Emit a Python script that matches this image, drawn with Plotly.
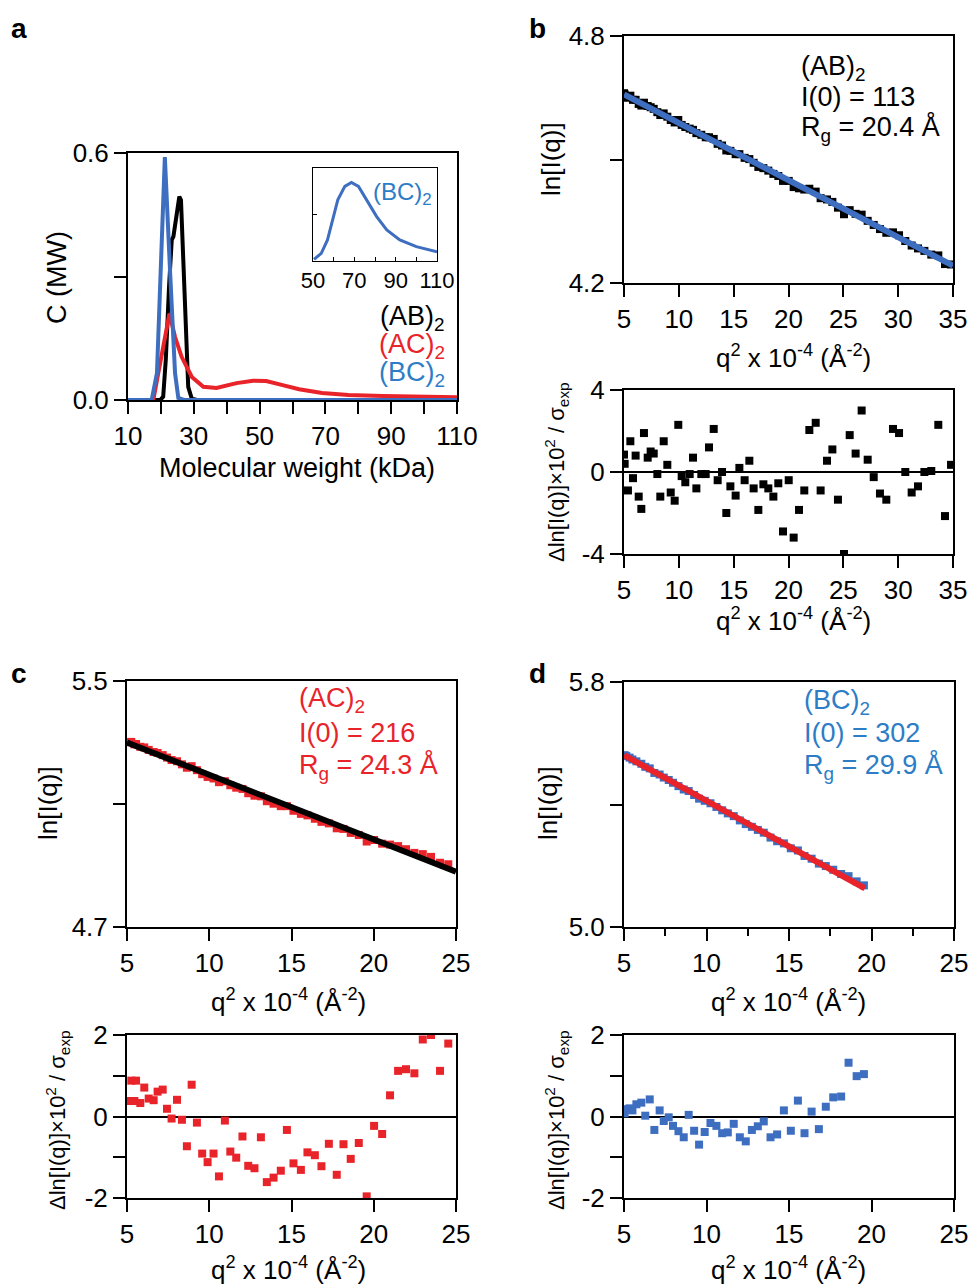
import plotly.graph_objects as go

# ---------------- data ----------------
# panel a: molecular weight distributions
mw_ab = [10, 19.8, 20.7, 21.5, 22.5, 23.3, 23.8, 25.6, 26.1, 27.2, 28.3, 29.4, 31, 110]
c_ab = [0, 0, 0.008, 0.10, 0.28, 0.389, 0.397, 0.494, 0.486, 0.25, 0.032, 0.003, 0, 0]
mw_ac = [10, 17.7, 19.2, 21.2, 22.6, 24.3, 26.3, 29.4, 32.9, 36.9, 43, 48, 52, 57, 62, 69, 77, 87.5, 97.6, 110]
c_ac = [0, 0, 0.065, 0.146, 0.21, 0.153, 0.105, 0.056, 0.032, 0.029, 0.041, 0.047, 0.046, 0.036, 0.026, 0.017, 0.012, 0.0097, 0.008, 0.0065]
mw_bc = [10, 17.2, 18.8, 20.3, 21.2, 22.8, 24.3, 25.3, 27, 110]
c_bc = [0, 0, 0.065, 0.39, 0.59, 0.31, 0.065, 0.005, 0, 0]
# inset (BC)2, 50-110 kDa, normalized
mw_inset = [50.5, 54, 57, 59.6, 62, 65.4, 68.6, 72, 76, 80.8, 85.7, 92, 100, 110]
c_inset = [0.018, 0.083, 0.227, 0.442, 0.658, 0.802, 0.845, 0.802, 0.658, 0.478, 0.335, 0.227, 0.155, 0.10]

# panel b: (AB)2 Guinier
q2_b = [5.0, 5.06, 5.36, 5.58, 5.82, 6.06, 6.34, 6.58, 6.82, 7.16, 7.43, 7.71, 8.04, 8.31, 8.62, 8.95,
        9.26, 9.62, 9.95, 10.26, 10.59, 10.99, 11.29, 11.60, 12.05, 12.45, 12.75, 13.18, 13.54, 13.94,
        14.33, 14.70, 15.18, 15.52, 16.00, 16.43, 16.82, 17.25, 17.71, 18.16, 18.62, 19.07, 19.50, 20.02,
        20.47, 20.96, 21.44, 21.90, 22.48, 22.93, 23.51, 24.00, 24.51, 25.06, 25.58, 26.12, 26.67, 27.22,
        27.77, 28.34, 28.92, 29.53, 30.08, 30.65, 31.23, 31.81, 32.39, 33.02, 33.66, 34.27, 34.82]
lnI_b = [4.661, 4.658, 4.650, 4.655, 4.645, 4.645, 4.635, 4.631, 4.638, 4.630, 4.627, 4.623, 4.615, 4.608,
         4.612, 4.604, 4.596, 4.590, 4.596, 4.584, 4.579, 4.575, 4.572, 4.564, 4.560, 4.554, 4.554, 4.550,
         4.538, 4.534, 4.522, 4.521, 4.513, 4.513, 4.504, 4.501, 4.492, 4.482, 4.479, 4.473, 4.465, 4.460,
         4.448, 4.448, 4.433, 4.430, 4.427, 4.429, 4.422, 4.406, 4.403, 4.397, 4.383, 4.367, 4.377, 4.368,
         4.366, 4.351, 4.341, 4.331, 4.322, 4.323, 4.316, 4.302, 4.291, 4.284, 4.278, 4.269, 4.267, 4.246, 4.245]
res_b = [0.85, 0.4, -0.9, 1.5, -0.3, 0.8, -1.2, -1.8, 1.9, 0.7, 1.0, 0.9, -0.1, -1.2, 1.5, 0.35, -1.0,
         -1.4, 2.3, -0.2, -0.5, -0.1, 0.7, -0.8, -0.1, -0.1, 1.2, 2.1, -0.4, 0.0, -2.0, -0.7, -1.15, 0.2,
         -0.4, 0.55, -0.8, -1.85, -0.6, -0.8, -1.2, -0.55, -2.9, -0.4, -3.2, -1.85, -0.9, 2.05, 2.4, -0.9,
         0.55, 1.1, -1.35, -4.0, 1.8, 0.9, 3.0, 0.6, -0.25, -1.05, -1.35, 2.1, 1.9, 0.0, -1.0, -0.7, 0.0,
         0.05, 2.3, -2.15, 0.35]
fit_b_x = [5, 35]
fit_b_y = [4.658, 4.242]

# panel c: (AC)2 Guinier
q2_c = [5.10, 5.26, 5.45, 5.55, 5.81, 6.05, 6.32, 6.62, 6.86, 7.17, 7.43, 7.71, 8.04, 8.34, 8.64, 8.93,
        9.25, 9.57, 9.90, 10.26, 10.59, 10.95, 11.28, 11.64, 12.02, 12.37, 12.75, 13.14, 13.50, 13.91,
        14.35, 14.72, 15.12, 15.57, 15.97, 16.42, 16.82, 17.27, 17.75, 18.16, 18.60, 19.09, 19.57, 20.02,
        20.51, 20.99, 21.48, 21.96, 22.47, 22.98, 23.48, 24.03, 24.53]
lnI_c = [5.301, 5.302, 5.294, 5.295, 5.286, 5.284, 5.276, 5.269, 5.266, 5.259, 5.251, 5.243, 5.239, 5.229,
         5.218, 5.223, 5.210, 5.197, 5.188, 5.183, 5.171, 5.174, 5.161, 5.153, 5.149, 5.135, 5.127, 5.125,
         5.109, 5.101, 5.093, 5.093, 5.078, 5.068, 5.063, 5.052, 5.042, 5.037, 5.021, 5.019, 5.006, 4.999,
         4.978, 4.983, 4.971, 4.968, 4.963, 4.953, 4.941, 4.937, 4.928, 4.909, 4.904]
res_c = [0.38, 0.88, 0.38, 0.88, 0.33, 0.71, 0.44, 0.40, 0.61, 0.66, 0.19, -0.05, 0.41, -0.08, -0.73, 0.78,
         -0.15, -0.91, -1.12, -0.91, -1.47, -0.10, -0.86, -1.01, -0.49, -1.21, -1.27, -0.51, -1.61, -1.50,
         -1.33, -0.33, -1.15, -1.31, -0.88, -0.95, -1.22, -0.67, -1.43, -0.68, -1.04, -0.65, -1.96, -0.23,
         -0.43, 0.52, 1.12, 1.16, 1.06, 1.89, 2.0, 1.12, 1.79]
fit_c_x = [5, 25]
fit_c_y = [5.300, 4.880]

# panel d: (BC)2 Guinier
q2_d = [5.04, 5.14, 5.34, 5.51, 5.75, 6.05, 6.29, 6.56, 6.84, 7.16, 7.41, 7.71, 7.97, 8.30, 8.62, 8.92,
        9.25, 9.55, 9.89, 10.24, 10.60, 10.95, 11.29, 11.65, 12.02, 12.38, 12.75, 13.11, 13.47, 13.88,
        14.28, 14.69, 15.11, 15.54, 15.94, 16.37, 16.81, 17.23, 17.68, 18.16, 18.61, 19.10, 19.54]
lnI_d = [5.561, 5.558, 5.553, 5.547, 5.541, 5.533, 5.523, 5.518, 5.503, 5.498, 5.488, 5.480, 5.471, 5.460,
         5.449, 5.444, 5.431, 5.419, 5.412, 5.404, 5.392, 5.381, 5.371, 5.362, 5.348, 5.336, 5.327, 5.317,
         5.308, 5.292, 5.280, 5.273, 5.257, 5.250, 5.232, 5.223, 5.207, 5.199, 5.187, 5.173, 5.166, 5.149, 5.136]
res_d = [0.08, 0.18, 0.20, 0.15, 0.30, 0.34, 0.02, 0.42, -0.33, 0.15, -0.11, -0.02, -0.23, -0.36, -0.51,
         0.04, -0.35, -0.69, -0.38, -0.16, -0.23, -0.41, -0.39, -0.18, -0.51, -0.61, -0.33, -0.24, -0.12,
         -0.51, -0.44, 0.15, -0.35, 0.39, -0.41, 0.12, -0.31, 0.24, 0.47, 0.49, 1.32, 0.99, 1.04]
fit_d_x = [5, 19.6]
fit_d_y = [5.561, 5.126]

# ---------------- style ----------------
W, H = 972, 1287
FONT = "Liberation Sans, Arial, sans-serif"
BLACK = "#000000"
RED = "#E8232A"
BLUE = "#3E6EC0"
BLUE_TXT = "#2D7DC6"


def dx(l, r):
    return [l / W, r / W]


def dy(t, b):
    return [1 - b / H, 1 - t / H]


def ax(domain, rng, tickvals, ticktext, anchor, size=26, **kw):
    d = dict(domain=domain, range=rng, tickmode="array", tickvals=tickvals, ticktext=ticktext,
             showline=True, linecolor="black", linewidth=2, mirror=True, ticks="outside",
             ticklen=12, tickwidth=2, tickcolor="black", showgrid=False, zeroline=False,
             tickfont=dict(family=FONT, size=size, color="black"), anchor=anchor, fixedrange=True,
             automargin=False)
    d.update(kw)
    return d


fig = go.Figure()


def line(x, y, n, color, width, clip=True):
    fig.add_trace(go.Scatter(x=x, y=y, xaxis="x" + n, yaxis="y" + n, mode="lines",
                             line=dict(color=color, width=width), cliponaxis=clip,
                             showlegend=False, hoverinfo="skip"))


def pts(x, y, n, color, size=8):
    fig.add_trace(go.Scatter(x=x, y=y, xaxis="x" + n, yaxis="y" + n, mode="markers",
                             marker=dict(symbol="square", size=size, color=color, line=dict(width=0)),
                             showlegend=False, hoverinfo="skip"))


# panel a
line(mw_ab, c_ab, "", BLACK, 4, False)
line(mw_ac, c_ac, "", RED, 4, False)
line(mw_bc, c_bc, "", BLUE, 4, False)
line(mw_inset, c_inset, "2", BLUE, 3)
# panel b
pts(q2_b, lnI_b, "3", BLACK)
line(fit_b_x, fit_b_y, "3", BLUE, 6)
pts(q2_b, res_b, "4", BLACK)
# panel c
pts(q2_c, lnI_c, "5", RED)
line(fit_c_x, fit_c_y, "5", BLACK, 6)
pts(q2_c, res_c, "6", RED)
# panel d
pts(q2_d, lnI_d, "7", BLUE)
line(fit_d_x, fit_d_y, "7", RED, 6)
pts(q2_d, res_d, "8", BLUE)

x_ab = list(range(10, 111, 10))
x_ab_t = ["10", "", "30", "", "50", "", "70", "", "90", "", "110"]
x35 = [5, 10, 15, 20, 25, 30, 35]
x25 = [5, 10, 15, 20, 25]
zl = dict(zeroline=True, zerolinecolor="black", zerolinewidth=2)

layout = dict(
    width=W, height=H, margin=dict(l=0, r=0, t=0, b=0, autoexpand=False),
    paper_bgcolor="white", plot_bgcolor="white", showlegend=False,
    font=dict(family=FONT, color="black"),
    xaxis=ax(dx(128, 457), [10, 110], x_ab, x_ab_t, "y"),
    yaxis=ax(dy(153, 400), [0, 0.6], [0, 0.3, 0.6], ["0.0", "", "0.6"], "x"),
    xaxis2=ax(dx(313, 437), [50, 110], [50, 60, 70, 80, 90, 100, 110],
              ["50", "", "70", "", "90", "", "110"], "y2", size=22,
              linewidth=1, ticks="inside", ticklen=4, tickwidth=1),
    yaxis2=ax(dy(168, 261), [0, 1], [0.5], [""], "x2", linewidth=1, ticks="inside",
              ticklen=4, tickwidth=1),
    xaxis3=ax(dx(624, 953), [5, 35], x35, [str(v) for v in x35], "y3"),
    yaxis3=ax(dy(36, 283), [4.2, 4.8], [4.2, 4.5, 4.8], ["4.2", "", "4.8"], "x3"),
    xaxis4=ax(dx(624, 953), [5, 35], x35, [str(v) for v in x35], "y4"),
    yaxis4=ax(dy(390, 554), [-4, 4], [-4, 0, 4], ["-4", "0", "4"], "x4", **zl),
    xaxis5=ax(dx(127, 456), [5, 25], x25, [str(v) for v in x25], "y5"),
    yaxis5=ax(dy(681, 927), [4.7, 5.5], [4.7, 5.1, 5.5], ["4.7", "", "5.5"], "x5"),
    xaxis6=ax(dx(127, 456), [5, 25], x25, [str(v) for v in x25], "y6"),
    yaxis6=ax(dy(1035, 1198), [-2, 2], [-2, -1, 0, 1, 2], ["-2", "", "0", "", "2"], "x6", **zl),
    xaxis7=ax(dx(624, 954), [5, 25], x25, [str(v) for v in x25], "y7",
              minor=dict(tickmode="array", tickvals=[7.5, 12.5, 17.5, 22.5], ticks="outside",
                         ticklen=7, tickwidth=2, tickcolor="black")),
    yaxis7=ax(dy(682, 927), [5.0, 5.8], [5.0, 5.4, 5.8], ["5.0", "", "5.8"], "x7"),
    xaxis8=ax(dx(624, 954), [5, 25], x25, [str(v) for v in x25], "y8"),
    yaxis8=ax(dy(1035, 1198), [-2, 2], [-2, -1, 0, 1, 2], ["-2", "", "0", "", "2"], "x8", **zl),
)
fig.update_layout(**layout)

anns = []


def txt(x, y, s, size=27, color="black", xa="center", ya="middle", angle=0, bold=False):
    if bold:
        s = "<b>" + s + "</b>"
    anns.append(dict(x=x / W, y=1 - y / H, xref="paper", yref="paper", text=s, showarrow=False,
                     xanchor=xa, yanchor=ya, textangle=angle,
                     font=dict(family=FONT, size=size, color=color)))


QLAB = "q<sup>2</sup> x 10<sup>-4</sup> (Å<sup>-2</sup>)"
RLAB = "Δln[I(q)]×10<sup>2</sup> / σ<sub>exp</sub>"

# panel letters
txt(19, 28, "a", 28, bold=True)
txt(537, 28, "b", 28, bold=True)
txt(19, 673, "c", 28, bold=True)
txt(537, 673, "d", 28, bold=True)

# panel a titles / labels
txt(57, 278, "C (MW)", 27, angle=-90)
txt(297, 468, "Molecular weight (kDa)", 27)
txt(447, 318, "(AB)<sub>2</sub>", 27, BLACK, xa="right")
txt(447, 346, "(AC)<sub>2</sub>", 27, RED, xa="right")
txt(447, 374, "(BC)<sub>2</sub>", 27, BLUE_TXT, xa="right")
txt(371, 193, "(BC)<sub>2</sub>", 24, BLUE_TXT, xa="left")

# panel b
txt(551, 159, "ln[I(q)]", 26, angle=-90)
txt(793, 356, QLAB, 26)
txt(556, 472, RLAB, 22, angle=-90)
txt(793, 619, QLAB, 26)
txt(799, 68, "(AB)<sub>2</sub>", 27, xa="left")
txt(799, 97, "I(0) = 113", 27, xa="left")
txt(799, 128, "R<sub>g</sub> = 20.4 Å", 27, xa="left")

# panel c
txt(48, 803, "ln[I(q)]", 26, angle=-90)
txt(288, 1000, QLAB, 26)
txt(57, 1120, RLAB, 22, angle=-90)
txt(288, 1268, QLAB, 26)
txt(297, 700, "(AC)<sub>2</sub>", 27, RED, xa="left")
txt(297, 733, "I(0) = 216", 27, RED, xa="left")
txt(297, 766, "R<sub>g</sub> = 24.3 Å", 27, RED, xa="left")

# panel d
txt(548, 803, "ln[I(q)]", 26, angle=-90)
txt(788, 1000, QLAB, 26)
txt(556, 1120, RLAB, 22, angle=-90)
txt(788, 1268, QLAB, 26)
txt(802, 702, "(BC)<sub>2</sub>", 27, BLUE_TXT, xa="left")
txt(802, 733, "I(0) = 302", 27, BLUE_TXT, xa="left")
txt(802, 766, "R<sub>g</sub> = 29.9 Å", 27, BLUE_TXT, xa="left")

fig.update_layout(annotations=anns)
fig.write_html("out.html", config={"displayModeBar": False},
               post_script="document.body.style.margin='0';document.body.style.overflow='hidden';")
